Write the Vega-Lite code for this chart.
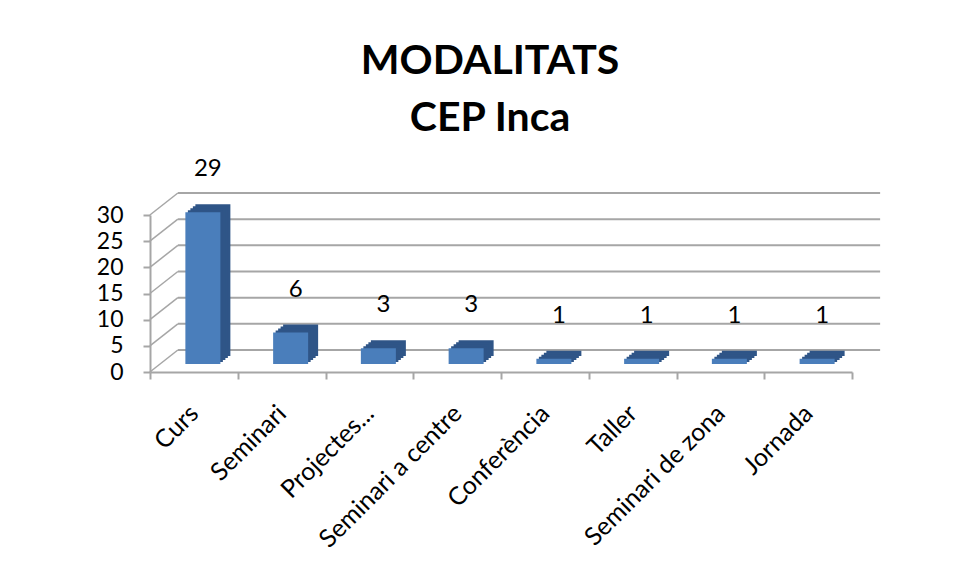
{
  "$schema": "https://vega.github.io/schema/vega-lite/v6.json",
  "autosize": "none",
  "width": 702,
  "height": 157,
  "padding": {"left": 150, "top": 215, "right": 105, "bottom": 204},
  "background": "white",
  "config": {
    "view": {"stroke": null},
    "font": "Lato",
    "axis": {
      "labelFont": "Lato", "labelColor": "#000000", "grid": false,
      "tickColor": "#a6a6a6", "tickSize": 7, "tickWidth": 2,
      "domainColor": "#a6a6a6", "domainWidth": 2, "labelOverlap": false, "labelLimit": 0
    },
    "axisX": {
      "labelAngle": -45, "labelAlign": "right", "labelBaseline": "middle",
      "labelFontSize": 25, "labelPadding": 30, "tickBand": "extent"
    },
    "axisY": {"labelFontSize": 23, "labelPadding": 20}
  },
  "title": {
    "text": ["MODALITATS", "CEP Inca"],
    "font": "Lato",
    "fontSize": 41,
    "fontWeight": "bold",
    "color": "#000000",
    "lineHeight": 57,
    "anchor": "middle",
    "frame": "group",
    "dx": -11,
    "offset": 17
  },
  "datasets": {
    "modalitats": [
      {"modalitat": "Curs", "n": 29},
      {"modalitat": "Seminari", "n": 6},
      {"modalitat": "Projectes...", "n": 3},
      {"modalitat": "Seminari a centre", "n": 3},
      {"modalitat": "Conferència", "n": 1},
      {"modalitat": "Taller", "n": 1},
      {"modalitat": "Seminari de zona", "n": 1},
      {"modalitat": "Jornada", "n": 1}
    ],
    "grid": [{"v": 0}, {"v": 5}, {"v": 10}, {"v": 15}, {"v": 20}, {"v": 25}, {"v": 30}]
  },
  "layer": [
    {
      "data": {"name": "grid"},
      "mark": {"type": "rule", "color": "#a6a6a6", "strokeWidth": 2, "xOffset": -16, "x2Offset": 72, "yOffset": -22},
      "encoding": {
        "x": {"datum": "Curs", "type": "nominal",
              "scale": {"domain": ["Curs", "Seminari", "Projectes...", "Seminari a centre", "Conferència", "Taller", "Seminari de zona", "Jornada"], "paddingInner": 0, "paddingOuter": 0}},
        "x2": {"datum": "Jornada"},
        "y": {"field": "v", "type": "quantitative", "title": null, "scale": {"domain": [0, 30], "nice": false},
              "axis": {"values": [0, 5, 10, 15, 20, 25, 30]}}
      }
    },
    {
      "data": {"name": "grid"},
      "mark": {"type": "rule", "color": "#a6a6a6", "strokeWidth": 1.5, "xOffset": -44, "x2Offset": -16, "y2Offset": -22},
      "encoding": {
        "x": {"datum": "Curs", "type": "nominal"},
        "x2": {"datum": "Curs"},
        "y": {"field": "v", "type": "quantitative", "title": null, "axis": {"values": [0, 5, 10, 15, 20, 25, 30]}},
        "y2": {"field": "v"}
      }
    },
    {
      "mark": {"type": "rule", "color": "#a6a6a6", "strokeWidth": 1.5, "xOffset": 44, "x2Offset": 72, "y2Offset": -22},
      "encoding": {
        "x": {"datum": "Jornada", "type": "nominal"},
        "x2": {"datum": "Jornada"},
        "y": {"datum": 0, "type": "quantitative", "title": null, "axis": {"values": [0, 5, 10, 15, 20, 25, 30]}},
        "y2": {"datum": 0}
      }
    },
    {
      "data": {"name": "modalitats"},
      "mark": {"type": "bar", "color": "#2f5587", "size": 35, "xOffset": 19, "yOffset": -16},
      "encoding": {
        "x": {"field": "modalitat", "type": "nominal", "sort": null, "title": null},
        "y": {"field": "n", "type": "quantitative", "title": null, "axis": {"values": [0, 5, 10, 15, 20, 25, 30]}}
      }
    },
    {
      "data": {"name": "modalitats"},
      "mark": {"type": "bar", "color": "#2f5587", "size": 35, "xOffset": 16.5, "yOffset": -14},
      "encoding": {
        "x": {"field": "modalitat", "type": "nominal", "sort": null, "title": null},
        "y": {"field": "n", "type": "quantitative", "title": null, "axis": {"values": [0, 5, 10, 15, 20, 25, 30]}}
      }
    },
    {
      "data": {"name": "modalitats"},
      "mark": {"type": "bar", "color": "#2f5587", "size": 35, "xOffset": 14, "yOffset": -12},
      "encoding": {
        "x": {"field": "modalitat", "type": "nominal", "sort": null, "title": null},
        "y": {"field": "n", "type": "quantitative", "title": null, "axis": {"values": [0, 5, 10, 15, 20, 25, 30]}}
      }
    },
    {
      "data": {"name": "modalitats"},
      "mark": {"type": "bar", "color": "#2f5587", "size": 35, "xOffset": 11.5, "yOffset": -10},
      "encoding": {
        "x": {"field": "modalitat", "type": "nominal", "sort": null, "title": null},
        "y": {"field": "n", "type": "quantitative", "title": null, "axis": {"values": [0, 5, 10, 15, 20, 25, 30]}}
      }
    },
    {
      "data": {"name": "modalitats"},
      "mark": {"type": "bar", "color": "#4a7ebb", "size": 35, "xOffset": 9, "yOffset": -8},
      "encoding": {
        "x": {"field": "modalitat", "type": "nominal", "sort": null, "title": null},
        "y": {"field": "n", "type": "quantitative", "title": null, "axis": {"values": [0, 5, 10, 15, 20, 25, 30]}}
      }
    },
    {
      "data": {"name": "modalitats"},
      "mark": {"type": "text", "font": "Lato", "fontSize": 24, "color": "#000000", "baseline": "middle", "xOffset": 14, "yOffset": -51},
      "encoding": {
        "x": {"field": "modalitat", "type": "nominal", "sort": null, "title": null},
        "y": {"field": "n", "type": "quantitative", "title": null, "axis": {"values": [0, 5, 10, 15, 20, 25, 30]}},
        "text": {"field": "n", "type": "quantitative"}
      }
    }
  ]
}
